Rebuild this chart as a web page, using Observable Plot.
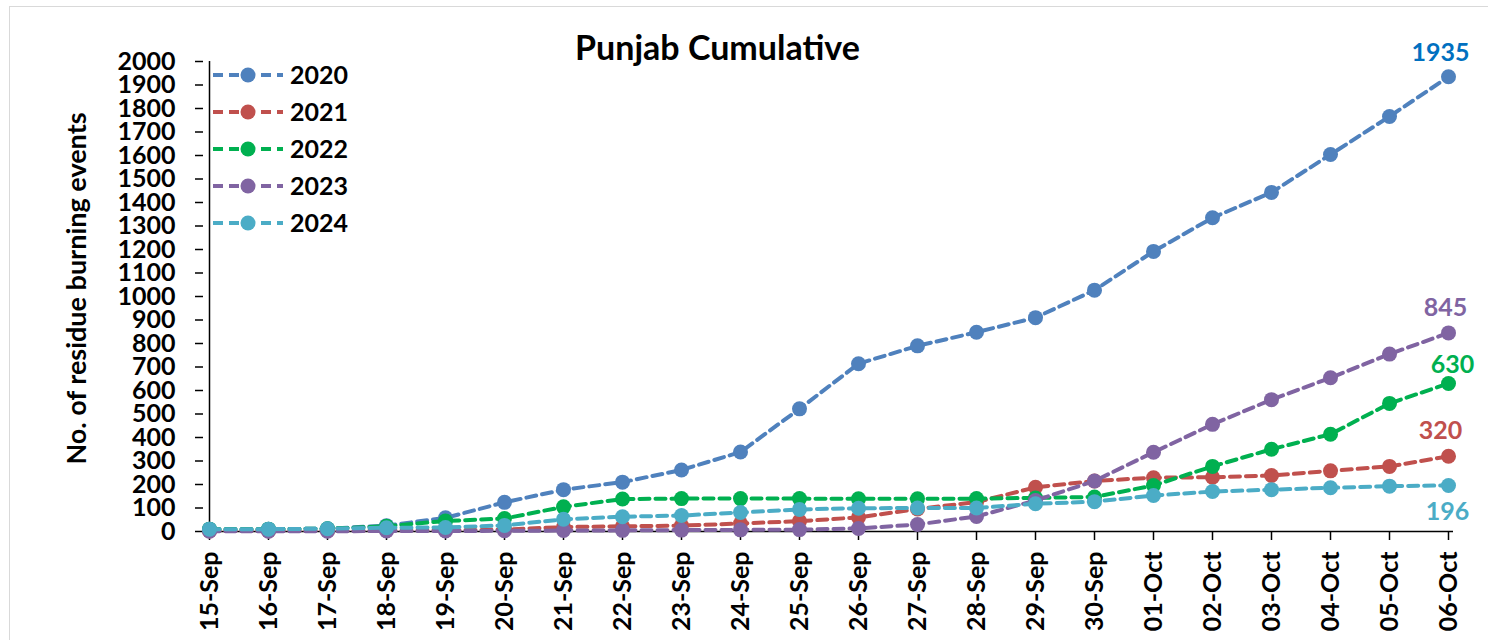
<!DOCTYPE html>
<html>
<head>
<meta charset="utf-8">
<script src="https://cdn.jsdelivr.net/npm/d3@7"></script>
<script src="https://cdn.jsdelivr.net/npm/@observablehq/plot@0.6"></script>
<style>
  html, body { margin: 0; padding: 0; background: #fff; }
  #wrap { position: relative; width: 1488px; height: 640px; overflow: hidden; font-family: Lato, "Open Sans", sans-serif; }
  #border { position: absolute; left: 9px; top: 6px; width: 1500px; height: 660px; border: 1.5px solid #d9d9d9; box-sizing: border-box; }
  #legend { position: absolute; left: 0; top: 0; }
  #chart { position: absolute; left: 0; top: 0; }
</style>
</head>
<body>
<div id="wrap">
  <div id="border"></div>
  <div id="chart"></div>
  <svg id="legend" width="400" height="260"></svg>
</div>
<script>
const dates = ["15-Sep","16-Sep","17-Sep","18-Sep","19-Sep","20-Sep","21-Sep","22-Sep","23-Sep","24-Sep","25-Sep","26-Sep","27-Sep","28-Sep","29-Sep","30-Sep","01-Oct","02-Oct","03-Oct","04-Oct","05-Oct","06-Oct"];
const years = ["2020","2021","2022","2023","2024"];
const v2020 = [10, 10, 12, 25, 58, 124, 178, 210, 262, 338, 522, 714, 790, 848, 910, 1027, 1192, 1335, 1443, 1604, 1766, 1935];
const v2021 = [2, 2, 3, 4, 5, 8, 19, 22, 25, 34, 44, 60, 96, 125, 188, 215, 229, 231, 238, 258, 277, 320];
const v2022 = [10, 10, 12, 22, 45, 55, 105, 138, 140, 140, 140, 139, 139, 140, 143, 147, 196, 277, 350, 414, 545, 630];
const v2023 = [1, 1, 1, 2, 2, 3, 4, 5, 6, 7, 8, 13, 30, 64, 132, 215, 337, 456, 561, 654, 755, 845];
const v2024 = [10, 10, 12, 16, 17, 26, 52, 63, 68, 81, 94, 99, 100, 100, 118, 127, 153, 170, 178, 186, 193, 196];
const yTicks = d3.range(0, 2001, 100);

const seriesValues = [v2020, v2021, v2022, v2023, v2024];
const colors = ["#4F81BD", "#C0504D", "#00B050", "#8064A2", "#4BACC6"];
const labelColors = ["#0070C0", "#C0504D", "#00B050", "#8064A2", "#4BACC6"];
// end-label offsets (style, not data)
const labelOffsets = [[-8, -24], [-8, -25], [4, -18], [-3, -25], [-1, 27]];

const FONT = "Lato, 'Open Sans', sans-serif";

const rowsBy = seriesValues.map((vals, i) => vals.map((v, j) => ({date: dates[j], value: v, year: years[i]})));

const marks = [];
marks.push(Plot.ruleY([0], {stroke: "#000", strokeWidth: 1.5}));
marks.push(Plot.ruleX([dates[0]], {stroke: "#000", strokeWidth: 1.5}));
marks.push(Plot.axisY({ticks: yTicks, tickSize: 8, tickPadding: 20, tickFormat: d => String(d), label: null,
  fontSize: 25, fontWeight: "bold", fill: "#000", strokeWidth: 1.5}));
marks.push(Plot.axisX({tickSize: 9, tickPadding: 11, tickRotate: -90, label: null,
  fontSize: 25, fontWeight: "bold", fill: "#000", strokeWidth: 1.5}));
rowsBy.forEach((rows, i) => {
  marks.push(Plot.line(rows, {x: "date", y: "value", stroke: colors[i], strokeWidth: 4, strokeDasharray: "10,6"}));
  marks.push(Plot.dot(rows, {x: "date", y: "value", fill: colors[i], r: 7.5, stroke: "none"}));
});
rowsBy.forEach((rows, i) => {
  const last = rows[rows.length - 1];
  marks.push(Plot.text([last], {x: "date", y: "value", text: d => String(d.value), fill: labelColors[i],
    dx: labelOffsets[i][0], dy: labelOffsets[i][1], fontSize: 25, fontWeight: "bold"}));
});
marks.push(Plot.text(["Punjab Cumulative"], {frameAnchor: "top", dx: -111, dy: -26, fontSize: 34, fontWeight: "bold", fill: "#000"}));
marks.push(Plot.text(["No. of residue burning events"], {frameAnchor: "left", textAnchor: "middle", dx: -126, dy: -8, rotate: -90, fontSize: 27, fontWeight: "bold", fill: "#000"}));

const chart = Plot.plot({
  width: 1488,
  height: 640,
  marginLeft: 203,
  marginRight: 35,
  marginTop: 61,
  marginBottom: 109,
  style: {fontFamily: FONT, background: "transparent", overflow: "visible"},
  x: {type: "point", domain: dates, padding: 0},
  y: {domain: [0, 2000]},
  marks
});
document.getElementById("chart").appendChild(chart);

// legend
const lg = d3.select("#legend");
years.forEach((yr, i) => {
  const cy = 75 + i * 37;
  lg.append("line").attr("x1", 213).attr("x2", 283).attr("y1", cy).attr("y2", cy)
    .attr("stroke", colors[i]).attr("stroke-width", 4).attr("stroke-dasharray", "10,6");
  lg.append("circle").attr("cx", 248).attr("cy", cy).attr("r", 7.5).attr("fill", colors[i]);
  lg.append("text").attr("x", 290).attr("y", cy).attr("dy", "0.35em").text(yr)
    .style("font-family", FONT).style("font-size", "25px").style("font-weight", "bold").attr("fill", "#000");
});
</script>
</body>
</html>
